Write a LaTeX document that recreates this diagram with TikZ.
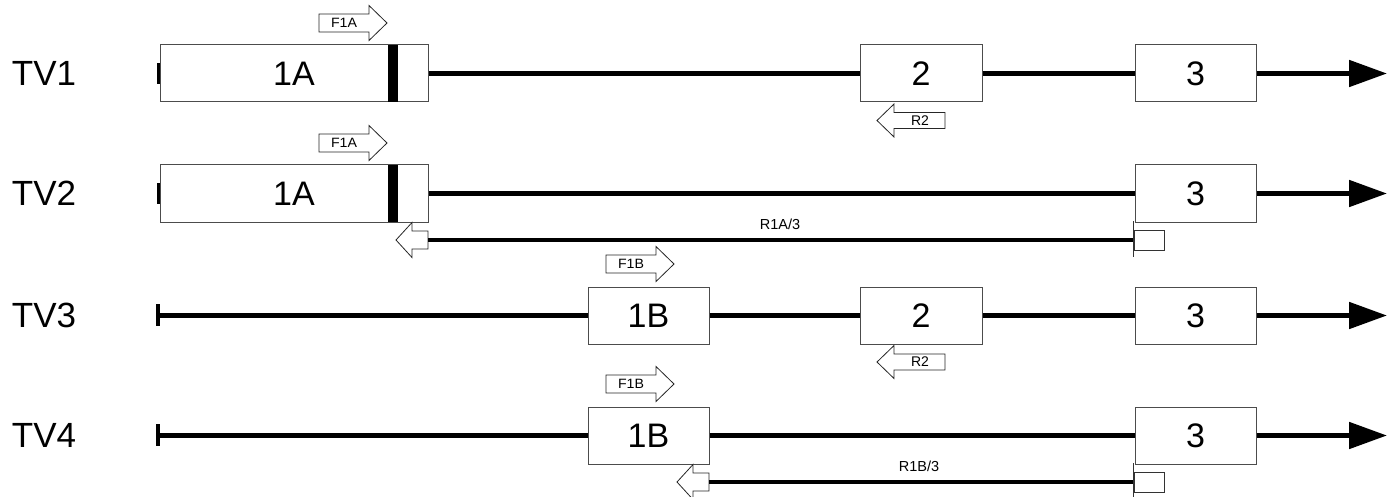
\documentclass[tikz,border=0pt]{standalone}
\usepackage{fontspec}
\setmainfont{Liberation Sans}
\usetikzlibrary{arrows.meta}
\newcommand\FwdPrimer[4]{% name, x-left, y-center, label
  \draw[primer] (#2,#3-9) -- (#2+50,#3-9) -- (#2+50,#3-17.5) -- (#2+68,#3) -- (#2+50,#3+17.5) -- (#2+50,#3+9) -- (#2,#3+9) -- cycle;
  \node[plab] (#1) at (#2+25,#3) {#4};}
\newcommand\RevPrimer[4]{% name, x-tip, y-center, label
  \draw[primer] (#2,#3) -- (#2+17,#3-16.5) -- (#2+17,#3-8) -- (#2+68,#3-8) -- (#2+68,#3+8) -- (#2+17,#3+8) -- (#2+17,#3+16.5) -- cycle;
  \node[rlab] (#1) at (#2+43,#3) {#4};}
\begin{document}
\begin{tikzpicture}[x=1pt,y=-1pt,
  exon/.style={draw=black!70, line width=1pt, fill=white, minimum height=57pt, inner sep=0pt, font=\fontsize{34}{34}\selectfont},
  intron/.style={line width=5pt},
  tick/.style={line width=4pt},
  tv/.style={font=\fontsize{35}{35}\selectfont},
  primer/.style={draw=black!85, line width=0.8pt, fill=white},
  plab/.style={font=\fontsize{13.5}{14}\selectfont, xscale=1.05, inner sep=0pt},
  rlab/.style={font=\fontsize{14}{15}\selectfont, inner sep=0pt},
  slab/.style={font=\fontsize{14.5}{15}\selectfont, inner sep=0pt},
  span/.style={line width=4pt},
  thin/.style={draw=black!80, line width=1pt},
  tip/.style={-{Triangle[length=38pt,width=26pt]}},
  bar/.style={fill=black, minimum width=10pt, minimum height=57pt, inner sep=0pt}]
\useasboundingbox (0,0) rectangle (1394,497);

% ---------- TV1 ----------
\node[tv] (tv1) at (44,73.5) {TV1};
\draw[tick] (159,63) -- (159,84);
\node[exon, minimum width=268pt] (a1) at (294,73.5) {1A};
\node[bar] (bar1) at (393,73.5) {};
\node[exon, minimum width=122pt] (b1) at (921,73.5) {2};
\node[exon, minimum width=121pt] (c1) at (1195.5,73.5) {3};
\coordinate (end1) at (1387,73.5);
\draw[intron] (a1.east) -- (b1.west);
\draw[intron] (b1.east) -- (c1.west);
\draw[intron, tip] (c1.east) -- (end1);
\FwdPrimer{f1}{319}{23}{F1A}
\RevPrimer{r1}{877}{120.5}{R2}

% ---------- TV2 ----------
\node[tv] (tv2) at (44,193.5) {TV2};
\draw[tick] (159,183) -- (159,204);
\node[exon, minimum width=268pt] (a2) at (294,193.5) {1A};
\node[bar] (bar2) at (393,193.5) {};
\node[exon, minimum width=121pt] (c2) at (1195.5,193.5) {3};
\coordinate (end2) at (1387,193.5);
\draw[intron] (a2.east) -- (c2.west);
\draw[intron, tip] (c2.east) -- (end2);
\FwdPrimer{f2}{319}{143}{F1A}
% split reverse primer R1A/3
\draw[primer] (396,240) -- (412,222.5) -- (412,231) -- (428,231) -- (428,249) -- (412,249) -- (412,257.5) -- cycle;
\coordinate (s2a) at (428,239.5);
\coordinate (s2b) at (1133,239.5);
\draw[span] (s2a) -- (s2b);
\draw[thin] (1133,221) -- (1133,257);
\draw[thin] (1134,230) rectangle (1164,250);
\node[slab] (l2) at (780,224) {R1A/3};

% ---------- TV3 ----------
\node[tv] (tv3) at (44,315.5) {TV3};
\coordinate (st3) at (158,315.5);
\draw[tick] (158,304) -- (158,326);
\node[exon, minimum width=121pt] (a3) at (648.5,315.5) {1B};
\node[exon, minimum width=122pt] (b3) at (921,315.5) {2};
\node[exon, minimum width=121pt] (c3) at (1195.5,315.5) {3};
\coordinate (end3) at (1387,315.5);
\draw[intron] (st3) -- (a3.west);
\draw[intron] (a3.east) -- (b3.west);
\draw[intron] (b3.east) -- (c3.west);
\draw[intron, tip] (c3.east) -- (end3);
\FwdPrimer{f3}{606}{264}{F1B}
\RevPrimer{r3}{877}{362}{R2}

% ---------- TV4 ----------
\node[tv] (tv4) at (44,435.5) {TV4};
\coordinate (st4) at (158,435.5);
\draw[tick] (158,424) -- (158,446);
\node[exon, minimum width=121pt] (a4) at (648.5,435.5) {1B};
\node[exon, minimum width=121pt] (c4) at (1195.5,435.5) {3};
\coordinate (end4) at (1387,435.5);
\draw[intron] (st4) -- (a4.west);
\draw[intron] (a4.east) -- (c4.west);
\draw[intron, tip] (c4.east) -- (end4);
\FwdPrimer{f4}{606}{384}{F1B}
% split reverse primer R1B/3
\draw[primer] (677,482) -- (693,464.5) -- (693,473) -- (709,473) -- (709,491) -- (693,491) -- (693,499.5) -- cycle;
\coordinate (s4a) at (709,481.5);
\coordinate (s4b) at (1133,481.5);
\draw[span] (s4a) -- (s4b);
\draw[thin] (1133,463) -- (1133,499);
\draw[thin] (1134,472) rectangle (1164,492);
\node[slab] (l4) at (919,466) {R1B/3};
\end{tikzpicture}
\end{document}
